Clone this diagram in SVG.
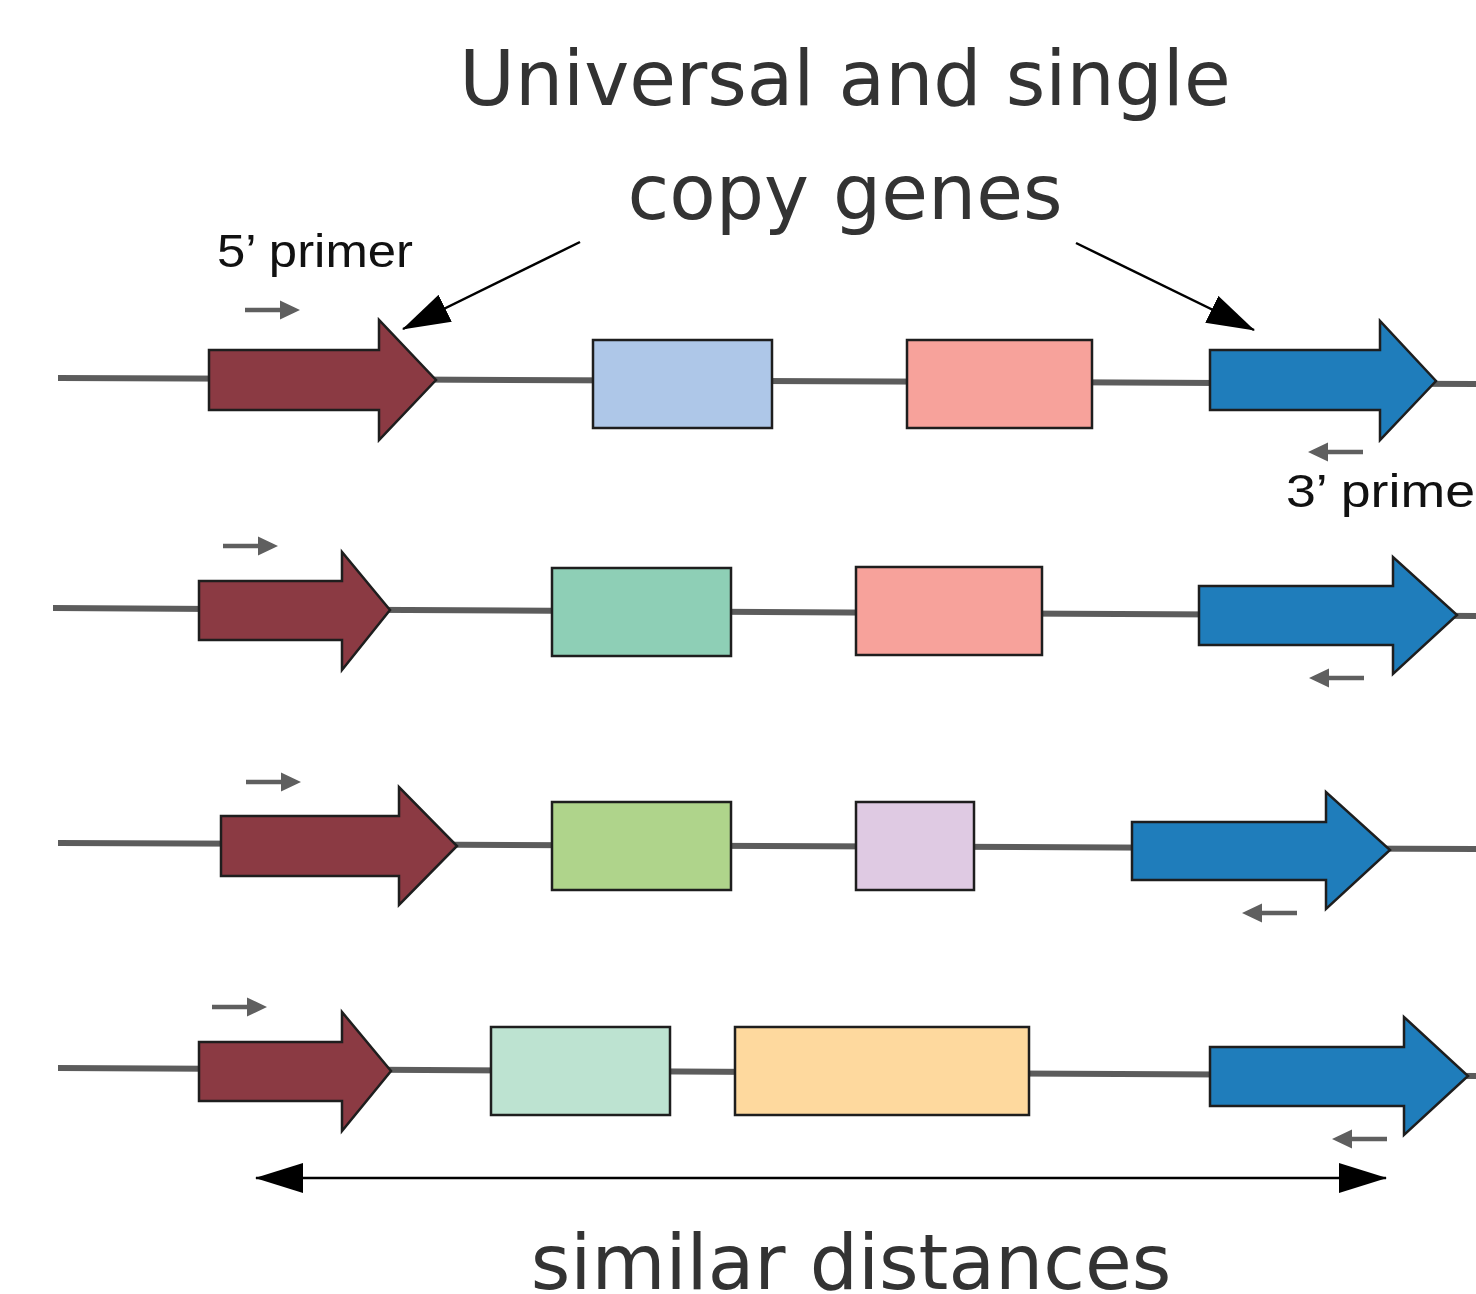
<svg xmlns="http://www.w3.org/2000/svg" xmlns:xlink="http://www.w3.org/1999/xlink" width="1476" height="1294" viewBox="0 0 1476 1294">
  <style>
    .title { font-family: "DejaVu Sans", sans-serif; font-size: 76px; fill: #333333; text-anchor: middle; }
    .label { font-family: "Liberation Sans", Arial, sans-serif; font-size: 47px; fill: #111111; }
    .backbone { fill: none; stroke: #5c5c5c; stroke-width: 6; }
    .gene { stroke: #1e1e1e; stroke-width: 2.5; stroke-linejoin: miter; }
    .core5 { fill: #8b3a43; }
    .core3 { fill: #1f7dbb; }
    .primer { fill: #5f5f5f; }
    .pointer { fill: none; stroke: #000000; stroke-width: 2.5; }
  </style>
  <defs>
    <!-- small primer arrow, pointing right, tail at origin -->
    <path id="primer-fwd" d="M0,-2.2 H35 V-9.5 L55,0 L35,9.5 V2.2 H0 Z"/>
    <marker id="head" markerUnits="userSpaceOnUse" markerWidth="48" markerHeight="30" viewBox="0 0 48 30" refX="47" refY="15" orient="auto-start-reverse">
      <path d="M0,0 L48,15 L0,30 Z" fill="#000000"/>
    </marker>
  </defs>

  <rect width="1476" height="1294" fill="#ffffff"/>

  <!-- headings -->
  <g id="title">
    <text class="title" x="845" y="105">Universal and single</text>
    <text class="title" x="845" y="219">copy genes</text>
  </g>
  <g id="footer">
    <text class="title" x="851" y="1289">similar distances</text>
  </g>

  <!-- DNA backbones and annotation arrows -->
  <g id="connectors">
    <path class="backbone" d="M58,378 L1476,384"/>
    <path class="backbone" d="M53,608 L1476,616"/>
    <path class="backbone" d="M58,843 L1476,849"/>
    <path class="backbone" d="M58,1068 L1476,1076"/>
    <path class="pointer" d="M580,242 L403,329" marker-end="url(#head)"/>
    <path class="pointer" d="M1076,243 L1254,330" marker-end="url(#head)"/>
    <path class="pointer" d="M256,1178 L1386,1178" marker-start="url(#head)" marker-end="url(#head)"/>
  </g>

  <!-- row 1 -->
  <g id="row1-core5">
    <path class="gene core5" d="M209,350 H379 V320 L436,380 L379,440 V410 H209 Z"/>
    <use href="#primer-fwd" class="primer" x="245" y="310"/>
    <text class="label" x="217" y="267" textLength="196" lengthAdjust="spacingAndGlyphs">5’ primer</text>
  </g>
  <g id="row1-core3-gene-a"><rect class="gene" x="593" y="340" width="179" height="88" fill="#aec7e8"/></g>
  <g id="row1-gene-b"><rect class="gene" x="907" y="340" width="185" height="88" fill="#f7a29b"/></g>
  <g id="row1-core3">
    <path class="gene core3" d="M1210,350 H1380 V321 L1436,381 L1380,440 V410 H1210 Z"/>
    <use href="#primer-fwd" class="primer" transform="translate(1363,452) scale(-1,1)"/>
    <text class="label" x="1286" y="507" textLength="189" lengthAdjust="spacingAndGlyphs">3’ prime</text>
  </g>

  <!-- row 2 -->
  <g id="row2-core5">
    <path class="gene core5" d="M199,581 H342 V552 L390,610 L342,670 V640 H199 Z"/>
    <use href="#primer-fwd" class="primer" x="223" y="546"/>
  </g>
  <g id="row2-gene-a"><rect class="gene" x="552" y="568" width="179" height="88" fill="#8ecfb6"/></g>
  <g id="row2-gene-b"><rect class="gene" x="856" y="567" width="186" height="88" fill="#f7a29b"/></g>
  <g id="row2-core3">
    <path class="gene core3" d="M1199,586 H1393 V557 L1457,615 L1393,674 V645 H1199 Z"/>
    <use href="#primer-fwd" class="primer" transform="translate(1364,678) scale(-1,1)"/>
  </g>

  <!-- row 3 -->
  <g id="row3-core5">
    <path class="gene core5" d="M221,816 H399 V787 L457,846 L399,905 V876 H221 Z"/>
    <use href="#primer-fwd" class="primer" x="246" y="782"/>
  </g>
  <g id="row3-gene-a"><rect class="gene" x="552" y="802" width="179" height="88" fill="#afd48b"/></g>
  <g id="row3-gene-b"><rect class="gene" x="856" y="802" width="118" height="88" fill="#dfcae3"/></g>
  <g id="row3-core3">
    <path class="gene core3" d="M1132,822 H1326 V792 L1390,850 L1326,909 V880 H1132 Z"/>
    <use href="#primer-fwd" class="primer" transform="translate(1297,913) scale(-1,1)"/>
  </g>

  <!-- row 4 -->
  <g id="row4-core5">
    <path class="gene core5" d="M199,1042 H342 V1012 L391,1071 L342,1131 V1101 H199 Z"/>
    <use href="#primer-fwd" class="primer" x="212" y="1007"/>
  </g>
  <g id="row4-gene-a"><rect class="gene" x="491" y="1027" width="179" height="88" fill="#bde3d1"/></g>
  <g id="row4-gene-b"><rect class="gene" x="735" y="1027" width="294" height="88" fill="#fed99e"/></g>
  <g id="row4-core3">
    <path class="gene core3" d="M1210,1047 H1404 V1017 L1468,1076 L1404,1135 V1106 H1210 Z"/>
    <use href="#primer-fwd" class="primer" transform="translate(1387,1139) scale(-1,1)"/>
  </g>
</svg>
